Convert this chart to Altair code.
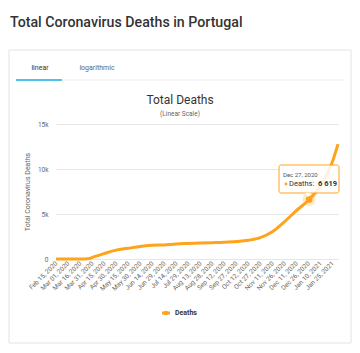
import altair as alt
import pandas as pd

# ---- data ----
dates = ["2020-02-15", "2020-03-01", "2020-03-16", "2020-03-28", "2020-03-31", "2020-04-15",
         "2020-04-30", "2020-05-15", "2020-05-30", "2020-06-14", "2020-06-29", "2020-07-14",
         "2020-07-29", "2020-08-13", "2020-08-28", "2020-09-12", "2020-09-27", "2020-10-12",
         "2020-10-27", "2020-11-11", "2020-11-26", "2020-12-11", "2020-12-27", "2021-01-10",
         "2021-01-18", "2021-01-25", "2021-02-01"]
deaths = [0, 0, 0, 60, 160, 599, 989, 1190, 1396, 1517, 1568, 1676, 1727, 1772, 1818, 1867,
          1944, 2080, 2371, 3021, 4127, 5373, 6619, 8100, 9400, 10800, 12757]

tick_dates = ["2020-02-15", "2020-03-01", "2020-03-16", "2020-03-31", "2020-04-15", "2020-04-30",
              "2020-05-15", "2020-05-30", "2020-06-14", "2020-06-29", "2020-07-14", "2020-07-29",
              "2020-08-13", "2020-08-28", "2020-09-12", "2020-09-27", "2020-10-12", "2020-10-27",
              "2020-11-11", "2020-11-26", "2020-12-11", "2020-12-26", "2021-01-10", "2021-01-25"]
y_ticks = [0, 5000, 10000, 15000]

hl_date = ["2020-12-27"]
hl_value = [6619]

ORANGE = "#FFA31A"
FONT = "Roboto"


def dt(s):
    y, m, d = (int(v) for v in s.split("-"))
    return alt.DateTime(year=y, month=m, date=d, utc=True)


df = pd.DataFrame({"date": dates, "deaths": deaths})
hl = pd.DataFrame({"date": hl_date, "deaths": hl_value})
one = pd.DataFrame({"k": [0]})

x_enc = alt.X("date:T",
              scale=alt.Scale(type="utc", domain=[dt("2020-02-15"), dt("2021-02-01")]),
              axis=alt.Axis(values=[dt(t) for t in tick_dates],
                            labelExpr="utcFormat(datum.value, '%b %d, %Y')",
                            labelAngle=-45, labelFontSize=6.5, labelAlign="right",
                            labelBaseline="middle",
                            labelColor="#666", labelPadding=3, ticks=False, domain=False,
                            grid=False, title=None, labelFont=FONT, labelOverlap=False))
y_enc = alt.Y("deaths:Q",
              scale=alt.Scale(domain=[0, 15000], nice=False),
              axis=alt.Axis(values=y_ticks,
                            labelExpr="datum.value == 0 ? '0' : (datum.value/1000) + 'k'",
                            labelFontSize=6.5, labelColor="#666", labelPadding=8,
                            ticks=False, domain=False, grid=True, gridColor="#e6e6e6",
                            title="Total Coronavirus Deaths", titleFontSize=7,
                            titleFontWeight="normal", titleColor="#666", titlePadding=7,
                            titleFont=FONT, labelFont=FONT))

card = alt.Chart(one).mark_rect(fillOpacity=0, stroke="#e2e2e2", strokeWidth=1).encode(
    x=alt.value(-47), x2=alt.value(295), y=alt.value(-74), y2=alt.value(219))

title = alt.Chart(one).mark_text(text="Total Coronavirus Deaths in Portugal", align="left",
                                 baseline="middle", fontSize=14.2, fontWeight=500,
                                 color="#333", font=FONT).encode(
    x=alt.value(-46), y=alt.value(-101))

tab1 = alt.Chart(one).mark_text(text="linear", align="center", baseline="middle",
                                fontSize=7, color="#333", font=FONT).encode(
    x=alt.value(-16), y=alt.value(-56))
tab2 = alt.Chart(one).mark_text(text="logarithmic", align="center", baseline="middle",
                                fontSize=7, color="#666", font=FONT).encode(
    x=alt.value(41), y=alt.value(-56))
sep = alt.Chart(one).mark_rule(color="#ececec", strokeWidth=1).encode(
    x=alt.value(-40), x2=alt.value(288), y=alt.value(-44), y2=alt.value(-44))
tabline = alt.Chart(one).mark_rule(color="#4FC3E8", strokeWidth=2).encode(
    x=alt.value(-40), x2=alt.value(6), y=alt.value(-44), y2=alt.value(-44))

ctitle = alt.Chart(one).mark_text(text="Total Deaths", align="center", baseline="middle",
                                  fontSize=12, color="#333", font=FONT).encode(
    x=alt.value(124), y=alt.value(-24))
csub = alt.Chart(one).mark_text(text="(Linear Scale)", align="center", baseline="middle",
                                fontSize=6.5, color="#666", font=FONT).encode(
    x=alt.value(124), y=alt.value(-10))

line = alt.Chart(df).mark_line(interpolate="monotone", strokeWidth=3, color=ORANGE).encode(
    x=x_enc, y=y_enc)

halo = alt.Chart(hl).mark_circle(size=170, color=ORANGE, opacity=0.25).encode(
    x=x_enc, y=y_enc)
pt = alt.Chart(hl).mark_circle(size=45, color=ORANGE, opacity=1).encode(
    x=x_enc, y=y_enc)

tipbox = alt.Chart(one).mark_rect(fill="white", fillOpacity=0.85, stroke=ORANGE,
                                  strokeWidth=1, cornerRadius=2).encode(
    x=alt.value(223), x2=alt.value(283), y=alt.value(41), y2=alt.value(69))
tipptr = alt.Chart(one).mark_point(shape="triangle-down", filled=True, fill="white",
                                   size=30, opacity=1).encode(
    x=alt.value(252), y=alt.value(71))
tip1 = alt.Chart(one).mark_text(text="Dec 27, 2020", align="left", baseline="middle",
                                fontSize=6, color="#555", font=FONT).encode(
    x=alt.value(227), y=alt.value(51))
tipdot = alt.Chart(one).mark_circle(size=8, color=ORANGE, opacity=1).encode(
    x=alt.value(230), y=alt.value(60))
tip2 = alt.Chart(one).mark_text(text="Deaths:", align="left", baseline="middle",
                                fontSize=7.5, color="#333", font=FONT).encode(
    x=alt.value(233), y=alt.value(60))
tip3 = alt.Chart(hl).transform_calculate(
    lbl="replace(format(datum.deaths, ','), ',', ' ')"
).mark_text(align="left", baseline="middle", fontSize=7.5,
            fontWeight="bold", color="#333", font=FONT).encode(
    text="lbl:N", x=alt.value(262), y=alt.value(60))

leg_line = alt.Chart(one).mark_rule(color=ORANGE, strokeWidth=3).encode(
    x=alt.value(106), x2=alt.value(114), y=alt.value(189), y2=alt.value(189))
leg_dot = alt.Chart(one).mark_circle(size=20, color=ORANGE, opacity=1).encode(
    x=alt.value(110), y=alt.value(189))
leg_text = alt.Chart(one).mark_text(text="Deaths", align="left", baseline="middle",
                                    fontSize=7, fontWeight="bold", color="#333",
                                    font=FONT).encode(
    x=alt.value(119), y=alt.value(189))

chart = alt.layer(card, title, tab1, tab2, sep, tabline, ctitle, csub, line, halo, pt,
                  tipbox, tipptr, tip1, tipdot, tip2, tip3, leg_line, leg_dot, leg_text
                  ).properties(
    width=282, height=135,
    autosize=alt.AutoSizeParams(type="none"),
    padding={"left": 56, "top": 124, "right": 22, "bottom": 94},
    background="white",
).configure(font=FONT).configure_view(stroke="white", strokeWidth=1).configure_axis(
    domain=False, ticks=False
).configure_axisX(grid=False)

chart.save("out.html", embed_options={"renderer": "svg", "actions": False})
